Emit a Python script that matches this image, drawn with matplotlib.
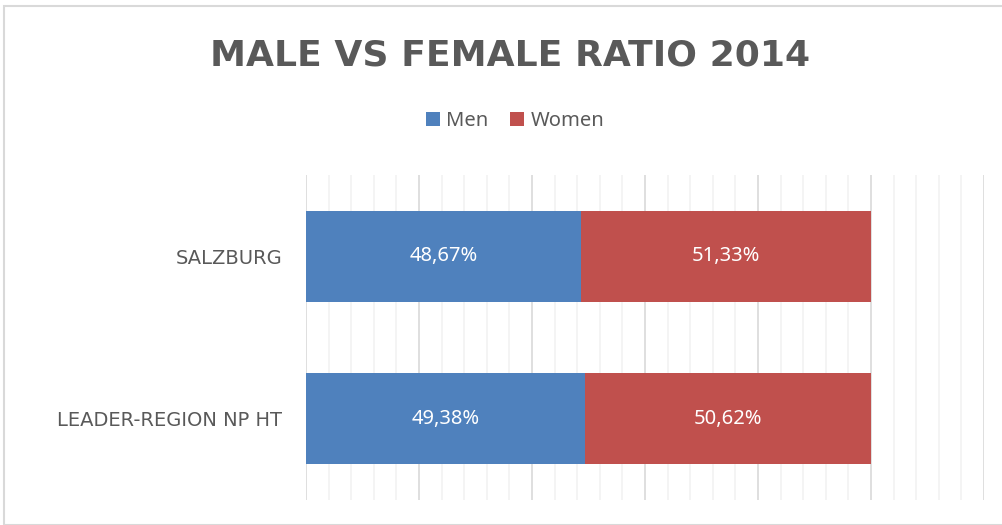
import matplotlib
matplotlib.use("Agg")
import matplotlib.pyplot as plt
from matplotlib.patches import Rectangle
from matplotlib.ticker import MultipleLocator

categories = ["LEADER-REGION NP HT", "SALZBURG"]
men = [49.38, 48.67]
women = [50.62, 51.33]
series_names = ["Men", "Women"]
colors = ["#4F81BD", "#C0504D"]

plt.rcParams['font.family'] = ['Noto Sans', 'DejaVu Sans']
plt.rcParams['font.stretch'] = 'normal'

fig = plt.figure(figsize=(10.02, 5.25), dpi=100)
W, H = 1002, 525
ax = fig.add_axes([306 / W, 1 - 500 / H, (984 - 306) / W, (500 - 175) / H])

y = list(range(len(categories)))
b1 = ax.barh(y, men, height=0.56, color=colors[0], label=series_names[0], zorder=3)
b2 = ax.barh(y, women, left=men, height=0.56, color=colors[1], label=series_names[1], zorder=3)

for bars, vals in ((b1, men), (b2, women)):
    for rect, v in zip(bars, vals):
        ax.text(rect.get_x() + rect.get_width() / 2, rect.get_y() + rect.get_height() / 2,
                f"{v:.2f}%".replace('.', ','), ha='center', va='center',
                color='white', fontsize=14.5, zorder=4)

ax.set_xlim(0, 120)
ax.set_ylim(-0.5, 1.5)
ax.xaxis.set_major_locator(MultipleLocator(20))
ax.xaxis.set_minor_locator(MultipleLocator(4))
ax.grid(True, which='major', axis='x', color='#D9D9D9', linewidth=1.2, zorder=0)
ax.grid(True, which='minor', axis='x', color='#F2F2F2', linewidth=1.2, zorder=0)
ax.tick_params(axis='x', which='both', length=0, labelbottom=False)
ax.tick_params(axis='y', length=0, pad=17)
ax.set_yticks(y)
ax.set_yticklabels(categories, fontsize=14, color='#595959', family='DejaVu Sans')
for s in ax.spines.values():
    s.set_visible(False)

fig.text(510 / W, 1 - 55 / H, "MALE VS FEMALE RATIO 2014", ha='center', va='center',
         fontsize=26, fontweight='bold', color='#595959', family='DejaVu Sans')

fig.legend(handles=[b1, b2], labels=series_names, loc='center', bbox_to_anchor=(515 / W, 1 - 121 / H),
           ncol=2, frameon=False, fontsize=14.5, labelcolor='#595959', handlelength=0.7,
           handleheight=0.7, handletextpad=0.3, columnspacing=1.1)

fig.patches.append(Rectangle((4 / W, 0), 1, 1 - 6 / H, transform=fig.transFigure,
                             fill=False, edgecolor='#D9D9D9', linewidth=1.5))

fig.savefig("out.png", dpi=100)
